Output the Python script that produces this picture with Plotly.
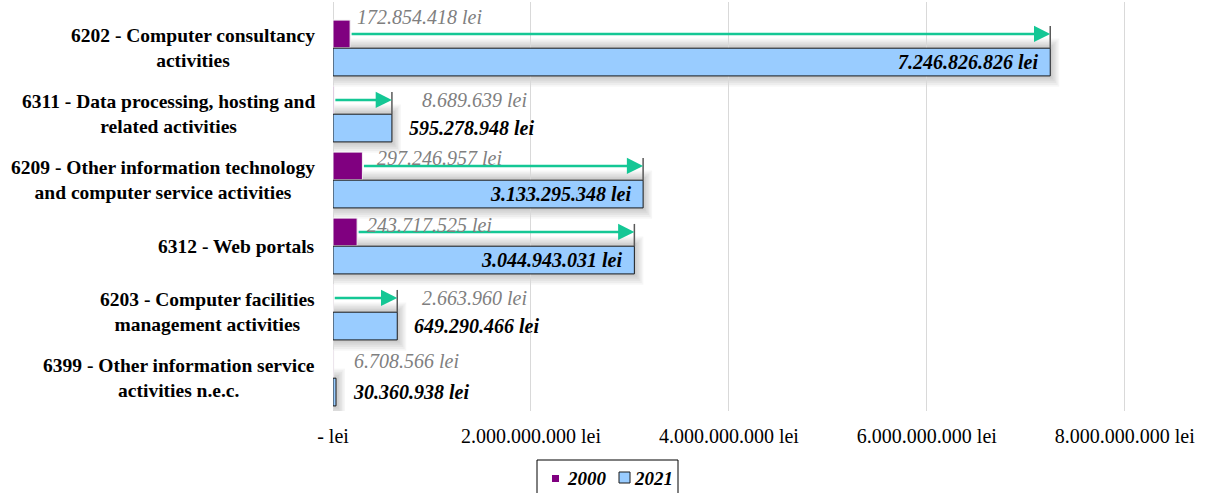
import plotly.graph_objects as go

# NACE activity codes, listed top to bottom
categories = [
    "6202 - Computer consultancy<br>activities",
    "6311 - Data processing, hosting and<br>related activities",
    "6209 - Other information technology<br>and computer service activities",
    "6312 - Web portals",
    "6203 - Computer facilities<br>management activities",
    "6399 - Other information service<br>activities n.e.c.",
]
series_names = ["2000", "2021"]
values_2000 = [172854418, 8689639, 297246957, 243717525, 2663960, 6708566]
values_2021 = [7246826826, 595278948, 3133295348, 3044943031, 649290466, 30360938]
tick_values = [0, 2e9, 4e9, 6e9, 8e9]
tick_labels = ["- lei", "2.000.000.000 lei", "4.000.000.000 lei",
               "6.000.000.000 lei", "8.000.000.000 lei"]


def lei(v):
    return f"{v:,}".replace(",", ".") + " lei"


FONT = "Liberation Serif"
PURPLE = "#800080"
BLUE = "#99CCFF"
GREEN = "#14C795"

n = len(categories)
pos = [n - 1 - i for i in range(n)]          # first category on top
OFF = 0.213                                  # half distance between the paired bars
BW = 0.42                                    # bar thickness (category units)

# pixel geometry of the plot area
L, R, T, B = 333, 7, 2, 82
W, H = 1207, 493
PW, PH = W - L - R, H - T - B
x_max = 8.76e9
px_x = x_max / PW
y_range = [-0.5, -0.5 + PH / 66.0]
px_y = (y_range[1] - y_range[0]) / PH


def paper_x(px):
    return (px - L) / PW


def paper_y(py):
    return (H - B - py) / PH


fig = go.Figure()

# soft shadow around the 2021 bars
shapes = []
for p, v in zip(pos, values_2021):
    for k in range(1, 7):
        shapes.append(dict(
            type="rect", layer="below", xref="x", yref="y",
            x0=0, x1=v + (k * 1.5) * px_x,
            y0=p - OFF - BW / 2 - (k * 1.8) * px_y,
            y1=p - OFF + BW / 2 + (k * 1.6) * px_y,
            fillcolor="rgba(0,0,0,0.035)", line=dict(width=0),
        ))

fig.add_trace(go.Bar(
    name=series_names[0], orientation="h", x=values_2000,
    y=[p + OFF for p in pos], width=BW,
    marker=dict(color=PURPLE, line=dict(color="#f2f2f2", width=1)),
    hoverinfo="skip",
))
fig.add_trace(go.Bar(
    name=series_names[1], orientation="h", x=values_2021,
    y=[p - OFF for p in pos], width=BW,
    marker=dict(color=BLUE, line=dict(color="#1a1a1a", width=1)),
    hoverinfo="skip",
))

annotations = []

# category labels, centred lines, right edge next to the axis
for p, c in zip(pos, categories):
    annotations.append(dict(
        xref="paper", yref="y", x=0, y=p, xanchor="right", yanchor="middle",
        xshift=-16, text=c, showarrow=False, align="center",
        font=dict(family=FONT, size=19.5, color="#000000", weight="bold"),
    ))

# growth arrows from the 2000 value to the 2021 value, with end marker
for p, a, b in zip(pos, values_2000, values_2021):
    y_arrow = p + OFF
    if (b - a) / px_x > 20:
        annotations.append(dict(
            xref="x", yref="y", axref="x", ayref="y",
            x=b, y=y_arrow, ax=a, ay=y_arrow, text="",
            showarrow=True, arrowhead=2, arrowsize=1.25, arrowwidth=2.6,
            arrowcolor=GREEN, standoff=0, startstandoff=0,
        ))
        shapes.append(dict(
            type="line", xref="x", yref="y",
            x0=b, x1=b, y0=y_arrow + 8 * px_y, y1=p - OFF + BW / 2,
            line=dict(color="#595959", width=1.5),
        ))

# label placement for the 2000 values: (anchor series, x shift px, y shift px)
label_2000_style = [("a", 5, 17), ("b", 28, 0), ("a", 13, 8),
                    ("a", 8, 7), ("b", 23, 0), ("b", 16, 3)]
for p, a, b, (anc, dx, dy) in zip(pos, values_2000, values_2021, label_2000_style):
    annotations.append(dict(
        xref="x", yref="y", x=a if anc == "a" else b, y=p + OFF,
        xanchor="left", yanchor="middle", xshift=dx, yshift=dy,
        text=lei(a), showarrow=False,
        font=dict(family=FONT, size=20, color="#7f7f7f", style="italic"),
    ))

# 2021 values: inside the bar end when long, otherwise just past it
for p, b in zip(pos, values_2021):
    inside = b > 1e9
    annotations.append(dict(
        xref="x", yref="y", x=b, y=p - OFF,
        xanchor="right" if inside else "left", yanchor="middle",
        xshift=-10 if inside else 15, text=lei(b), showarrow=False,
        font=dict(family=FONT, size=20, color="#000000",
                  style="italic", weight="bold"),
    ))

# compact boxed legend below the axis
legend_font = dict(family=FONT, size=19, color="#000000",
                   style="italic", weight="bold")
shapes.append(dict(
    type="rect", xref="paper", yref="paper",
    x0=paper_x(537), x1=paper_x(678), y0=paper_y(500), y1=paper_y(460),
    line=dict(color="#000000", width=1), fillcolor="white",
))
shapes.append(dict(
    type="rect", xref="paper", yref="paper",
    x0=paper_x(552), x1=paper_x(559), y0=paper_y(482), y1=paper_y(475),
    line=dict(width=0), fillcolor=PURPLE,
))
shapes.append(dict(
    type="rect", xref="paper", yref="paper",
    x0=paper_x(619), x1=paper_x(630), y0=paper_y(483), y1=paper_y(472),
    line=dict(color="#1a1a1a", width=1), fillcolor=BLUE,
))
for name, px in zip(series_names, [565, 632]):
    annotations.append(dict(
        xref="paper", yref="paper", x=paper_x(px), y=paper_y(478),
        xanchor="left", yanchor="middle", text=name, showarrow=False,
        font=legend_font,
    ))

fig.update_layout(
    width=W, height=H,
    margin=dict(l=L, r=R, t=T, b=B, autoexpand=False),
    paper_bgcolor="white", plot_bgcolor="white",
    barmode="overlay",
    showlegend=False,
    xaxis=dict(
        range=[0, x_max], tickvals=tick_values, ticktext=tick_labels,
        showgrid=True, gridcolor="#d9d9d9", gridwidth=1,
        zeroline=True, zerolinecolor="#d9d9d9", zerolinewidth=1,
        showline=False, ticks="", ticklabelstandoff=11, automargin=False,
        tickfont=dict(family=FONT, size=20, color="#000000"),
    ),
    yaxis=dict(
        range=y_range, showticklabels=False, showgrid=False,
        zeroline=False, showline=False, ticks="", automargin=False,
    ),
    shapes=shapes,
    annotations=annotations,
)

fig.write_html("out.html")
